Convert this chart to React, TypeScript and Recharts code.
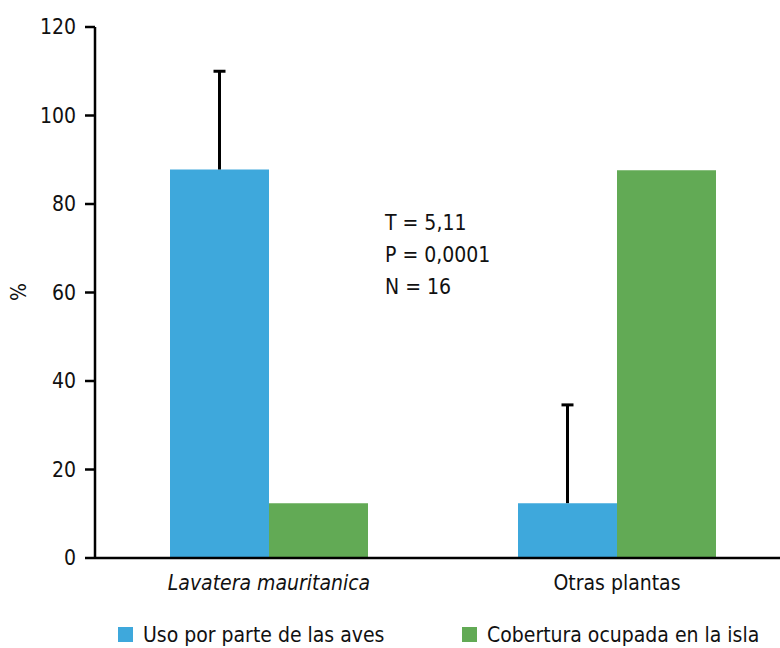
import React from 'react';
import { BarChart, Bar, XAxis, YAxis, Customized, Rectangle } from 'recharts';

const categories = ['Lavatera mauritanica', 'Otras plantas'];
const usoAves = [87.8, 12.4];
const usoAvesError = [22.2, 22.2];
const cobertura = [12.4, 87.6];
const yTicks = [0, 20, 40, 60, 80, 100, 120];
const statsLines = ['T = 5,11', 'P = 0,0001', 'N = 16'];
const legendLabels = ['Uso por parte de las aves', 'Cobertura ocupada en la isla'];

const BLUE = '#3ea8dc';
const GREEN = '#62aa55';
const FONT = '"DejaVu Sans", sans-serif';
const TXT: React.CSSProperties = { fontFamily: FONT, fontStretch: 'condensed', fontSize: 21, fill: '#111' };

const data = categories.map((name, i) => ({
  name,
  uso: usoAves[i],
  usoErr: usoAvesError[i],
  cobertura: cobertura[i],
}));

// bar with a one-sided (upper) error whisker, no lower cap
const BarWithError = (props: any) => {
  const { x, y, width, height, payload, fill } = props;
  const perUnit = height / payload.uso;
  const top = y - payload.usoErr * perUnit;
  const cx = x + width / 2;
  return (
    <g>
      <Rectangle x={x} y={y} width={width} height={height} fill={fill} />
      <line x1={cx} y1={y} x2={cx} y2={top} stroke="#000" strokeWidth={3} />
      <line x1={cx - 6} y1={top} x2={cx + 6} y2={top} stroke="#000" strokeWidth={3} />
    </g>
  );
};

const XTick = (props: any) => {
  const { x, y, payload } = props;
  return (
    <text
      x={x}
      y={y + 24}
      textAnchor="middle"
      style={{ ...TXT, fontStyle: payload.index === 0 ? 'italic' : 'normal' }}
    >
      {payload.value}
    </text>
  );
};

const Extras = () => {
  const legendX = [118, 462];
  const legendColors = [BLUE, GREEN];
  return (
    <g>
      {statsLines.map((t, i) => (
        <text key={t} x={385} y={230 + i * 32} style={TXT}>
          {t}
        </text>
      ))}
      <text x={0} y={0} transform="translate(26,292) rotate(-90)" textAnchor="middle" style={TXT}>
        %
      </text>
      {legendLabels.map((label, i) => (
        <g key={label}>
          <rect x={legendX[i]} y={627} width={15} height={15} fill={legendColors[i]} />
          <text x={legendX[i] + 25} y={642} style={TXT}>
            {label}
          </text>
        </g>
      ))}
    </g>
  );
};

export default function App() {
  return (
    <div style={{ position: 'absolute', left: 0, top: 0, width: 780, height: 648, overflow: 'hidden', background: '#fff' }}>
      <BarChart
        width={800}
        height={648}
        data={data}
        margin={{ top: 27, right: 9, bottom: 50, left: 0 }}
        barGap={0}
        barSize={99}
      >
        <YAxis
          width={95}
          domain={[0, 120]}
          ticks={yTicks}
          tickLine={{ stroke: '#000', strokeWidth: 2.5 }}
          tickSize={10}
          tickMargin={9}
          axisLine={{ stroke: '#000', strokeWidth: 2.5 }}
          tick={{ style: TXT } as any}
        />
        <XAxis
          dataKey="name"
          height={40}
          tickLine={false}
          axisLine={{ stroke: '#000', strokeWidth: 2.5 }}
          tick={<XTick />}
          interval={0}
        />
        <Bar dataKey="uso" fill={BLUE} isAnimationActive={false} shape={<BarWithError />} />
        <Bar dataKey="cobertura" fill={GREEN} isAnimationActive={false} />
        <Customized component={<Extras />} />
      </BarChart>
    </div>
  );
}
